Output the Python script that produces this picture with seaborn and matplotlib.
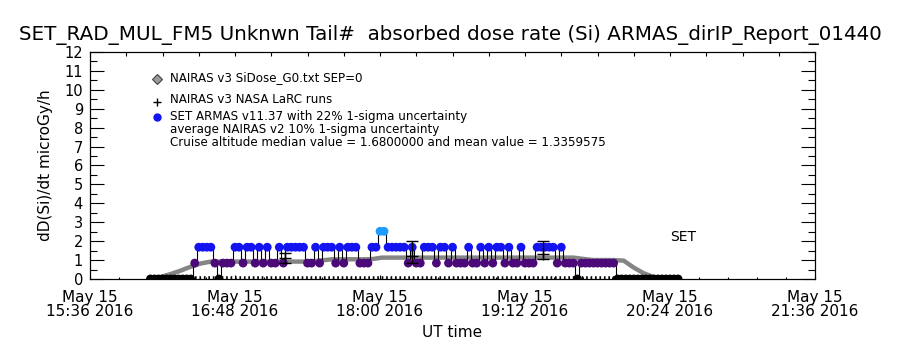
import numpy as np
import pandas as pd
import matplotlib
matplotlib.use("Agg")
import matplotlib.pyplot as plt
import matplotlib.dates as mdates
from matplotlib.ticker import FixedLocator, MultipleLocator
import seaborn as sns

t0 = pd.Timestamp("2016-05-15 15:36")
t_end = pd.Timestamp("2016-05-15 21:36")

# NAIRAS v3 G0 model, minutes after 15:36
g0_min = np.arange(30, 295, 5)
g0_val = [0.03, 0.10, 0.26, 0.44, 0.65, 0.82, 0.92, 0.92, 0.92, 0.92,
          0.92, 0.92, 0.92, 0.92, 0.92, 0.92, 0.93, 0.98, 1.04, 1.04,
          1.04, 1.04, 1.05, 1.13, 1.13, 1.13, 1.13, 1.13, 1.13, 1.13,
          1.13, 1.13, 1.13, 1.13, 1.13, 1.13, 1.13, 1.13, 1.13, 1.13,
          1.13, 1.13, 1.13, 1.06, 1.00, 1.00, 1.00, 0.97, 0.60, 0.30,
          0.10, 0.06, 0.03]

# NASA LaRC runs
larc_min = [97, 160, 225]
larc_val = [1.10, 1.20, 1.30]
larc_lo = [0.25, 0.35, 0.25]
larc_hi = [0.27, 0.83, 0.73]
larc_zero_min = [52, 262]

# SET ARMAS measurements (2 min samples)
Z, P, B, L = 0.0, 0.84, 1.68, 2.52
armas_min = np.arange(30, 294, 2)
armas_val = [Z, Z, Z, Z, Z, Z, Z, Z, Z, Z,
             Z, P, B, B, B, B, P, Z, P, P,
             P, B, B, P, B, B, P, B, P, B,
             P, P, B, P, B, B, B, B, B, P,
             P, B, P, B, B, B, P, B, P, B,
             B, B, P, P, P, B, B, L, L, B,
             B, B, B, B, P, B, P, P, B, B,
             B, P, B, B, P, B, P, P, P, B,
             P, P, B, P, B, P, B, B, P, B,
             P, P, B, P, P, P, B, B, B, B,
             B, P, B, P, P, P, Z, P, P, P,
             P, P, P, P, P, P, Z, Z, Z, Z,
             Z, Z, Z, Z, Z, Z, Z, Z, Z, Z,
             Z, Z]
level_colors = {Z: "black", P: "#4b0a78", B: "#1414f0", L: "#1e9bff"}

df_g0 = pd.DataFrame({"time": t0 + pd.to_timedelta(g0_min, unit="min"), "dose": g0_val})
df_armas = pd.DataFrame({"time": t0 + pd.to_timedelta(armas_min, unit="min"), "dose": armas_val})
df_armas["level"] = df_armas["dose"].map({Z: "z", P: "p", B: "b", L: "l"})
pal = {"z": level_colors[Z], "p": level_colors[P], "b": level_colors[B], "l": level_colors[L]}

sns.set_theme(style="white")
plt.rcParams["font.family"] = ["DejaVu Sans"]
plt.rcParams["axes.edgecolor"] = "black"
plt.rcParams["axes.linewidth"] = 0.8
plt.rcParams["text.color"] = "black"
plt.rcParams["axes.labelcolor"] = "black"
plt.rcParams["xtick.color"] = "black"
plt.rcParams["ytick.color"] = "black"

fig = plt.figure(figsize=(9, 3.5), dpi=100)
ax = fig.add_axes([0.1, 0.2029, 0.8056, 0.6486])

sns.lineplot(data=df_g0, x="time", y="dose", color="#858585", lw=3.2,
             estimator=None, sort=False, ax=ax, zorder=2)
sns.lineplot(data=df_armas, x="time", y="dose", color="black", lw=0.8,
             drawstyle="steps-mid", estimator=None, sort=False, ax=ax, zorder=3)
sns.scatterplot(data=df_armas, x="time", y="dose", hue="level", palette=pal,
                s=40, edgecolor="none", legend=False, ax=ax, zorder=4)

larc_t = t0 + pd.to_timedelta(larc_min, unit="min")
ax.errorbar(larc_t, larc_val, yerr=[larc_lo, larc_hi], fmt="+", color="black",
            ms=8, mew=1, elinewidth=1, capsize=4, zorder=5)
zero_t = t0 + pd.to_timedelta(larc_zero_min, unit="min")
ax.plot(zero_t, [0, 0], color="black", lw=4, linestyle=(0, (0.3, 0.5)), zorder=5)

ax.set_xlim(t0, t_end)
ax.set_ylim(0, 12)

major_x = mdates.date2num(pd.date_range(t0, t_end, freq="72min").to_pydatetime())
minor_x = mdates.date2num(pd.date_range(t0, t_end, freq="864s").to_pydatetime())
top_x = mdates.date2num(pd.date_range(t0, t_end, freq="18min").to_pydatetime())
ax.xaxis.set_major_locator(FixedLocator(major_x))
ax.xaxis.set_minor_locator(FixedLocator(minor_x))
ax.xaxis.set_major_formatter(mdates.DateFormatter("%b %d\n%H:%M %Y"))
ax.yaxis.set_major_locator(MultipleLocator(1))
ax.yaxis.set_minor_locator(MultipleLocator(0.5))

ax.tick_params(axis="x", which="major", direction="in", length=3.2, width=0.8,
               labelsize=11, pad=8)
ax.tick_params(axis="x", which="minor", direction="in", length=1.6, width=0.8)
ax.tick_params(axis="y", which="major", direction="in", length=10.4, width=0.8,
               labelsize=10.5, pad=5, right=True, left=True)
ax.tick_params(axis="y", which="minor", direction="in", length=5, width=0.8,
               right=True, left=True)
for lab in ax.get_xticklabels():
    lab.set_linespacing(0.95)

ax2 = ax.twiny()
ax2.set_xlim(ax.get_xlim())
ax2.xaxis.set_major_locator(FixedLocator(top_x))
ax2.set_xticklabels([])
ax2.tick_params(axis="x", direction="in", length=3.2, width=0.8)

ax.set_xlabel("UT time", fontsize=11, labelpad=4)
ax.set_ylabel("dD(Si)/dt microGy/h", fontsize=11)
ax.yaxis.set_label_coords(-0.051, 0.5)
fig.text(0.5, 1 - 35 / 350, "SET_RAD_MUL_FM5 Unknwn Tail#  absorbed dose rate (Si) ARMAS_dirIP_Report_01440",
         ha="center", va="center", fontsize=14.3)

# legend drawn IDL-style
def px(x, y):
    return ((x - 90) / 725, (279 - y) / 227)

lx, ly = px(157, 79)
ax.plot(lx, ly, marker="D", ms=5, mfc="#9a9a9a", mec="#444444", mew=0.8, transform=ax.transAxes)
lx, ly = px(157, 102)
ax.plot(lx, ly, marker="+", ms=6, color="black", mew=1, transform=ax.transAxes)
lx, ly = px(157, 117)
ax.plot(lx, ly, marker="o", ms=5, color=level_colors[B], transform=ax.transAxes)
rows = [(78, "NAIRAS v3 SiDose_G0.txt SEP=0"),
        (100, "NAIRAS v3 NASA LaRC runs"),
        (117, "SET ARMAS v11.37 with 22% 1-sigma uncertainty"),
        (130, "average NAIRAS v2 10% 1-sigma uncertainty"),
        (143, "Cruise altitude median value = 1.6800000 and mean value = 1.3359575")]
for y, s in rows:
    tx, ty = px(170, y)
    ax.text(tx, ty, s, transform=ax.transAxes, fontsize=8.6, va="center", ha="left")
tx, ty = px(670, 237)
ax.text(tx, ty, "SET", transform=ax.transAxes, fontsize=10, va="center", ha="left")

fig.savefig("out.png", dpi=100)
